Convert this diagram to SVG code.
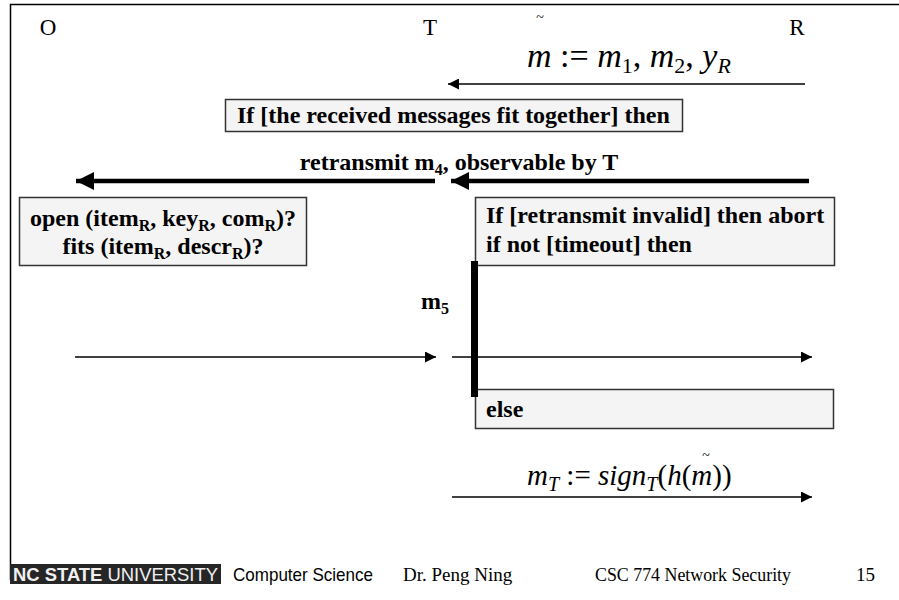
<svg xmlns="http://www.w3.org/2000/svg" width="899" height="600" viewBox="0 0 899 600">
  <style>
    .serif { font-family: "Liberation Serif", "Times New Roman", serif; fill: #000; }
    .party { font-size: 23px; }
    .bold { font-weight: bold; }
    .lbl { font-size: 24px; }
    .math { font-style: italic; }
    .up { font-style: normal; }
    .box { fill: #f4f4f4; stroke: #333; stroke-width: 1.5; }
    .thin { stroke: #000; stroke-width: 1.6; fill: none; }
    .thick { stroke: #000; stroke-width: 4.5; fill: none; }
    .foot { font-size: 19px; }
    .sans { font-family: "Liberation Sans", Arial, sans-serif; }
  </style>
  <defs>
    <marker id="headThin" viewBox="0 0 10 10" refX="10" refY="5" markerWidth="13" markerHeight="11" markerUnits="userSpaceOnUse" orient="auto">
      <path d="M0,0 L10,5 L0,10 Z" fill="#000"/>
    </marker>
    <marker id="headThick" viewBox="0 0 10 10" refX="10" refY="5" markerWidth="22" markerHeight="18" markerUnits="userSpaceOnUse" orient="auto">
      <path d="M0,0 L10,5 L0,10 Z" fill="#000"/>
    </marker>
  </defs>

  <rect width="899" height="600" fill="#fff"/>

  <!-- slide frame -->
  <path d="M899,4.5 H10.5 V580" stroke="#000" stroke-width="1.5" fill="none"/>

  <!-- parties -->
  <g id="party-O"><text class="serif party" x="48" y="35" text-anchor="middle">O</text></g>
  <g id="party-T"><text class="serif party" x="430" y="35" text-anchor="middle">T</text></g>
  <g id="party-R"><text class="serif party" x="797" y="35" text-anchor="middle">R</text></g>

  <!-- message labels -->
  <g id="label-m">
    <text class="serif" x="540" y="22" font-size="14" text-anchor="middle">~</text>
    <text class="serif math" font-size="34" x="527" y="67">m<tspan class="up"> := </tspan>m<tspan class="up" font-size="22" dy="6">1</tspan><tspan class="up" dy="-6">, </tspan>m<tspan class="up" font-size="22" dy="6">2</tspan><tspan class="up" dy="-6">, </tspan>y<tspan font-size="22" dy="6">R</tspan></text>
  </g>

  <g id="box-fit">
    <rect class="box" x="225.5" y="99.5" width="457" height="32"/>
    <text class="serif bold lbl" x="237" y="123">If [the received messages fit together] then</text>
  </g>

  <g id="label-m4">
    <text class="serif bold lbl" x="459" y="170" text-anchor="middle">retransmit m<tspan font-size="16" dy="5">4</tspan><tspan dy="-5">, observable by T</tspan></text>
  </g>

  <g id="box-open">
    <rect class="box" x="19.5" y="197.5" width="287" height="68"/>
    <text class="serif bold lbl" x="163" y="226" text-anchor="middle">open (item<tspan font-size="16" dy="5">R</tspan><tspan dy="-5">, key</tspan><tspan font-size="16" dy="5">R</tspan><tspan dy="-5">, com</tspan><tspan font-size="16" dy="5">R</tspan><tspan dy="-5">)?</tspan></text>
    <text class="serif bold lbl" x="163" y="254" text-anchor="middle">fits (item<tspan font-size="16" dy="5">R</tspan><tspan dy="-5">, descr</tspan><tspan font-size="16" dy="5">R</tspan><tspan dy="-5">)?</tspan></text>
  </g>

  <g id="box-check">
    <rect class="box" x="475.5" y="197.5" width="359" height="68"/>
    <text class="serif bold lbl" x="486" y="223">If [retransmit invalid] then abort</text>
    <text class="serif bold lbl" x="486" y="252">if not [timeout] then</text>
  </g>

  <g id="label-m5">
    <text class="serif bold lbl" x="421" y="309">m<tspan font-size="16" dy="5">5</tspan></text>
  </g>

  <g id="box-else">
    <rect class="box" x="475.5" y="389.5" width="358" height="39"/>
    <text class="serif bold lbl" x="486" y="417">else</text>
  </g>

  <g id="label-mT">
    <text class="serif" x="706" y="460" font-size="14" text-anchor="middle">~</text>
    <text class="serif math" font-size="29" x="527" y="485">m<tspan font-size="20" dy="6">T</tspan><tspan class="up" dy="-6"> := </tspan>sign<tspan font-size="20" dy="6">T</tspan><tspan class="up" dy="-6">(</tspan>h<tspan class="up">(</tspan>m<tspan class="up">))</tspan></text>
  </g>

  <!-- connectors -->
  <g id="connectors">
    <line class="thin" x1="805" y1="84" x2="448" y2="84" marker-end="url(#headThin)"/>
    <line class="thick" x1="435" y1="181" x2="76" y2="181" marker-end="url(#headThick)"/>
    <line class="thick" x1="809" y1="181" x2="451" y2="181" marker-end="url(#headThick)"/>
    <line class="thin" x1="75" y1="357" x2="436" y2="357" marker-end="url(#headThin)"/>
    <line class="thin" x1="452" y1="357" x2="812" y2="357" marker-end="url(#headThin)"/>
    <line class="thin" x1="452" y1="497" x2="812" y2="497" marker-end="url(#headThin)"/>
    <rect x="471" y="261" width="7" height="136" fill="#000"/>
  </g>

  <!-- footer -->
  <g id="footer">
    <rect x="10" y="564" width="211" height="20" fill="#262626"/>
    <text class="sans" x="13" y="581" font-size="19" fill="#f0f0f0" textLength="205" lengthAdjust="spacingAndGlyphs"><tspan font-weight="bold">NC STATE</tspan> UNIVERSITY</text>
    <text class="sans" x="233" y="581" font-size="19" fill="#000" textLength="140" lengthAdjust="spacingAndGlyphs">Computer Science</text>
    <text class="serif foot" x="403" y="581">Dr. Peng Ning</text>
    <text class="serif foot" x="595" y="581" textLength="196" lengthAdjust="spacingAndGlyphs">CSC 774 Network Security</text>
    <text class="serif foot" x="856" y="581">15</text>
  </g>
</svg>
